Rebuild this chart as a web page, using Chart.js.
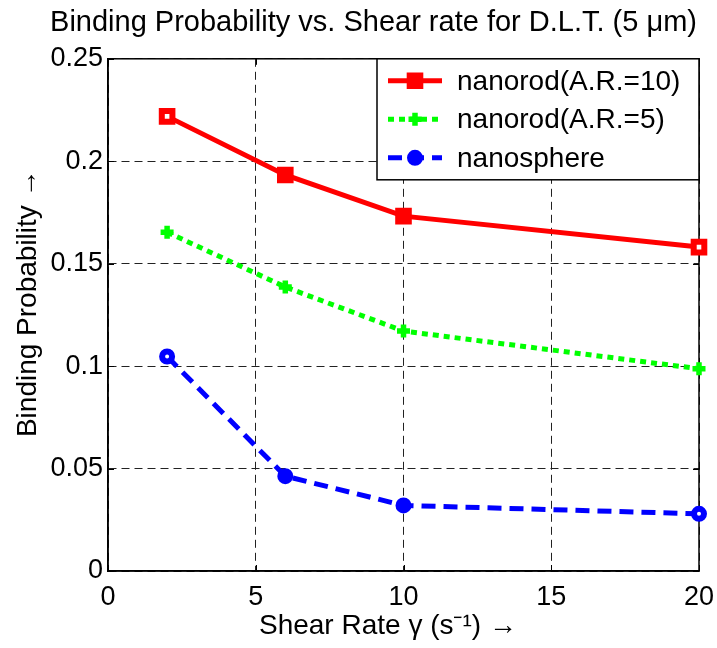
<!DOCTYPE html>
<html><head><meta charset="utf-8">
<script src="https://cdn.jsdelivr.net/npm/chart.js@4"></script>
<style>html,body{margin:0;padding:0;background:#fff;}</style>
</head><body>
<canvas id="c" width="717" height="648"></canvas>
<script>
// ---- data ----
const shearRates = [2, 6, 10, 20];
const nanorodAR10 = [0.2219, 0.1933, 0.1732, 0.1581];
const nanorodAR5 = [0.1654, 0.1386, 0.1171, 0.0987];
const nanosphere = [0.1047, 0.0463, 0.0320, 0.0279];
const seriesLabels = ['nanorod(A.R.=10)', 'nanorod(A.R.=5)', 'nanosphere'];
const xTickLabels = ['0', '5', '10', '15', '20'];
const yTickLabels = ['0', '0.05', '0.1', '0.15', '0.2', '0.25'];
const titleText = 'Binding Probability vs. Shear rate for D.L.T. (5 \u03bcm)';
const xTitleText = 'Shear Rate \u03b3 (s\u207b\u00b9) \u2192';
const yTitleText = 'Binding Probability \u2192';

const FONT = '"Liberation Sans", Arial, Helvetica, sans-serif';

function pts(ys) { return shearRates.map((x, i) => ({x: x, y: ys[i]})); }
function holeFill(color) {
  return (c) => (c.dataIndex === 0 || c.dataIndex === shearRates.length - 1) ? '#ffffff' : color;
}

const datasets = [
  {label: seriesLabels[0], data: pts(nanorodAR10), borderColor: '#ff0000', backgroundColor: '#ff0000',
   borderWidth: 5, borderDash: [], pointStyle: 'rect', pointRadius: 7.5, pointBorderWidth: 6,
   pointBackgroundColor: holeFill('#ff0000'), pointBorderColor: '#ff0000'},
  {label: seriesLabels[1], data: pts(nanorodAR5), borderColor: '#00ff00', backgroundColor: '#00ff00',
   borderWidth: 5, borderDash: [6, 5], pointStyle: 'cross', pointRadius: 6.5, pointBorderWidth: 5.5,
   pointBackgroundColor: '#00ff00', pointBorderColor: '#00ff00'},
  {label: seriesLabels[2], data: pts(nanosphere), borderColor: '#0000ff', backgroundColor: '#0000ff',
   borderWidth: 5, borderDash: [14, 8], pointStyle: 'circle', pointRadius: 5, pointBorderWidth: 6,
   pointBackgroundColor: holeFill('#0000ff'), pointBorderColor: '#0000ff'}
];
datasets.forEach(d => { d.tension = 0; d.fill = false; d.clip = false; d.pointHoverRadius = d.pointRadius; });

// box around the axes + inward ticks
const boxPlugin = {
  id: 'axesBox',
  beforeDatasetsDraw(chart) {
    const {ctx, chartArea: a, scales} = chart;
    ctx.save();
    ctx.strokeStyle = '#000';
    ctx.lineWidth = 1.5;
    ctx.setLineDash([]);
    ctx.strokeRect(a.left, a.top, a.right - a.left, a.bottom - a.top);
    ctx.lineWidth = 1;
    const L = 6;
    scales.x.ticks.forEach(t => {
      const px = Math.round(scales.x.getPixelForValue(t.value)) + 0.5;
      ctx.beginPath();
      ctx.moveTo(px, a.bottom); ctx.lineTo(px, a.bottom - L);
      ctx.moveTo(px, a.top); ctx.lineTo(px, a.top + L);
      ctx.stroke();
    });
    scales.y.ticks.forEach(t => {
      const py = Math.round(scales.y.getPixelForValue(t.value)) + 0.5;
      ctx.beginPath();
      ctx.moveTo(a.left, py); ctx.lineTo(a.left + L, py);
      ctx.moveTo(a.right, py); ctx.lineTo(a.right - L, py);
      ctx.stroke();
    });
    ctx.restore();
  }
};

// legend drawn inside the axes, top-right corner
const legendPlugin = {
  id: 'insideLegend',
  afterDatasetsDraw(chart) {
    const {ctx, chartArea: a} = chart;
    const bw = 322, bh = 121;
    const bx = a.right - bw, by = a.top;
    ctx.save();
    ctx.fillStyle = '#fff';
    ctx.fillRect(bx, by, bw, bh);
    ctx.strokeStyle = '#000';
    ctx.lineWidth = 1.5;
    ctx.setLineDash([]);
    ctx.strokeRect(bx, by, bw, bh);
    chart.data.datasets.forEach((d, i) => {
      const y = by + 22 + i * 38.5;
      ctx.strokeStyle = d.borderColor;
      ctx.lineWidth = d.borderWidth;
      ctx.setLineDash(d.borderDash || []);
      ctx.beginPath();
      ctx.moveTo(bx + 11, y); ctx.lineTo(bx + 65, y);
      ctx.stroke();
      ctx.setLineDash([]);
      ctx.fillStyle = d.pointBorderColor;
      ctx.strokeStyle = d.pointBorderColor;
      ctx.lineWidth = d.pointBorderWidth;
      Chart.helpers.drawPoint(ctx, {pointStyle: d.pointStyle, rotation: 0, radius: d.pointRadius, borderWidth: d.pointBorderWidth}, bx + 38, y);
      ctx.fillStyle = '#000';
      ctx.font = '28px ' + FONT;
      ctx.textAlign = 'left';
      ctx.textBaseline = 'middle';
      ctx.fillText(d.label, bx + 80, y + 1);
    });
    ctx.restore();
  }
};

new Chart(document.getElementById('c'), {
  type: 'line',
  data: {datasets: datasets},
  options: {
    responsive: false,
    animation: false,
    devicePixelRatio: 1,
    layout: {padding: {left: 48, right: 18, top: 0, bottom: 0}},
    plugins: {
      legend: {display: false},
      tooltip: {enabled: false},
      title: {display: true, text: titleText, color: '#000',
        font: {family: FONT, size: 29, weight: 'normal'}, padding: {top: 6, bottom: 18}}
    },
    scales: {
      x: {
        type: 'linear', min: 0, max: 20,
        afterFit(s) { s.height = 77; s.paddingLeft = 0; s.paddingRight = 0; },
        afterBuildTicks(s) { s.ticks = xTickLabels.map(v => ({value: Number(v)})); },
        ticks: {color: '#000', font: {family: FONT, size: 27}, padding: 10, maxRotation: 0,
          callback: (v, i) => xTickLabels[i]},
        grid: {color: '#222', lineWidth: 1, drawTicks: false},
        border: {display: true, color: '#000', width: 1.5, dash: [8, 5]},
        title: {display: true, text: xTitleText + '    ', color: '#000',
          font: {family: FONT, size: 28}, padding: {top: 0, bottom: 5}}
      },
      y: {
        type: 'linear', min: 0, max: 0.25,
        afterFit(s) { s.width = 60; s.paddingTop = 0; s.paddingBottom = 0; },
        afterBuildTicks(s) { s.ticks = yTickLabels.map(v => ({value: Number(v)})); },
        ticks: {color: '#000', font: {family: FONT, size: 27}, padding: 5,
          callback: (v, i) => yTickLabels[i]},
        grid: {color: '#222', lineWidth: 1, drawTicks: false},
        border: {display: true, color: '#000', width: 1.5, dash: [8, 5]},
        title: {display: true, text: '   ' + yTitleText, color: '#000',
          font: {family: FONT, size: 28}, padding: {top: -37, bottom: 0}}
      }
    }
  },
  plugins: [boxPlugin, legendPlugin]
});
</script>
</body></html>
